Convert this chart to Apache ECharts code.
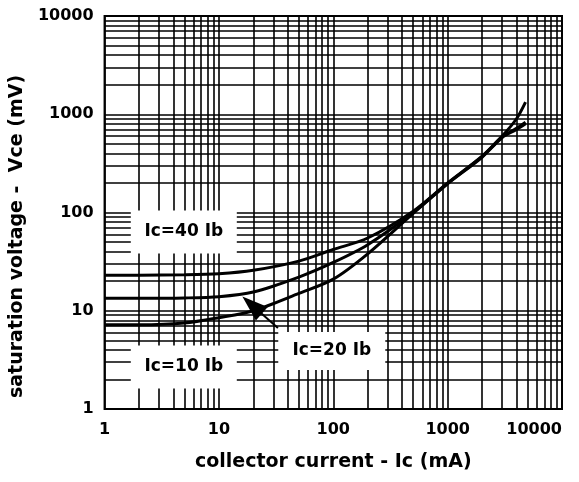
<!DOCTYPE html>
<html>
<head>
<meta charset="utf-8">
<script src="https://cdn.jsdelivr.net/npm/echarts@6/dist/echarts.min.js"></script>
<style>
  html, body { margin: 0; padding: 0; background: #fff; }
  #chart { width: 579px; height: 482px; }
</style>
</head>
<body>
<div id="chart"></div>
<script>
// collector current (mA) and Vce(sat) (mV)
const currentMA = [1, 2, 5, 10, 20, 50, 100, 200, 500, 1000, 2000, 3000, 4000, 4800]
const vce40 = [23, 23, 23.2, 23.8, 25.8, 32, 42, 55, 103, 200, 375, 600, 900, 1330]
const vce20 = [13.4, 13.4, 13.5, 13.9, 15.5, 22, 31, 47, 100, 198, 370, 590, 720, 830]
const vce10 = [7.2, 7.2, 7.5, 8.5, 10, 15, 21, 38, 98, 196, 365, 580, 700, 800]

const decades = [1, 10, 100, 1000]
const minorSteps = [2, 3, 4, 5, 6, 7, 8, 9]

const FONT = 'DejaVu Sans'

function pairs(ys) {
  return currentMA.map((x, i) => [x, ys[i]])
}

const minorGrid = []
decades.forEach(d => minorSteps.forEach(m => {
  minorGrid.push({ xAxis: d * m })
  minorGrid.push({ yAxis: d * m })
}))

function curve(name, ys) {
  return {
    name,
    type: 'line',
    z: 3,
    data: pairs(ys),
    smooth: 0.3,
    showSymbol: false,
    lineStyle: { color: '#000', width: 3 }
  }
}

function tag(text, coord, size) {
  return {
    coord,
    symbol: 'rect',
    symbolSize: size,
    itemStyle: { color: '#fff' },
    label: {
      show: true,
      position: 'inside',
      formatter: text,
      color: '#000',
      fontFamily: FONT,
      fontWeight: 'bold',
      fontSize: 17
    }
  }
}

const chart = echarts.init(document.getElementById('chart'))
chart.setOption({
  animation: false,
  backgroundColor: '#fff',
  grid: {
    left: 103, right: 17, top: 16, bottom: 73,
    show: true, borderColor: '#000', borderWidth: 2
  },
  xAxis: {
    type: 'log',
    logBase: 10,
    min: 1,
    max: 10000,
    name: 'collector current - Ic (mA)',
    nameLocation: 'middle',
    nameGap: 44,
    nameTextStyle: { fontFamily: FONT, fontWeight: 'bold', fontSize: 19, color: '#000' },
    axisLine: { show: false },
    axisTick: { show: false },
    axisLabel: {
      fontFamily: FONT, fontWeight: 'bold', fontSize: 16, color: '#000', margin: 13,
      alignMaxLabel: 'right',
      formatter: v => String(Math.round(v))
    },
    splitLine: { show: true, lineStyle: { color: '#000', width: 1.6 } }
  },
  yAxis: {
    type: 'log',
    logBase: 10,
    min: 1,
    max: 10000,
    name: 'saturation voltage -  Vce (mV)',
    nameLocation: 'middle',
    nameGap: 68,
    nameTextStyle: {
      fontFamily: FONT, fontWeight: 'bold', fontSize: 19, color: '#000',
      padding: [0, 48, 0, 0]
    },
    axisLine: { show: false },
    axisTick: { show: false },
    axisLabel: {
      fontFamily: FONT, fontWeight: 'bold', fontSize: 16, color: '#000', margin: 11,
      formatter: v => String(Math.round(v))
    },
    splitLine: { show: true, lineStyle: { color: '#000', width: 1.6 } }
  },
  series: [
    {
      name: 'grid',
      type: 'line',
      z: 1,
      data: [],
      silent: true,
      markLine: {
        silent: true,
        symbol: 'none',
        label: { show: false },
        lineStyle: { color: '#000', width: 1.6, type: 'solid' },
        data: minorGrid
      }
    },
    curve('Ic=40 Ib', vce40),
    curve('Ic=20 Ib', vce20),
    curve('Ic=10 Ib', vce10),
    {
      name: 'notes',
      type: 'line',
      z: 4,
      data: [],
      silent: true,
      markPoint: {
        silent: true,
        data: [
          tag('Ic=40 Ib', [4.93, 63.3], [106, 43]),
          tag('Ic=10 Ib', [4.93, 2.68], [106, 43]),
          tag('Ic=20 Ib', [97, 3.89], [107, 38])
        ]
      },
      markLine: {
        silent: true,
        label: { show: false },
        lineStyle: { color: '#000', width: 2, type: 'solid' },
        data: [[
          { coord: [32.8, 6.67], symbol: 'none' },
          { coord: [19.5, 11.4], symbol: 'triangle', symbolSize: [18, 26] }
        ]]
      }
    }
  ]
})
</script>
</body>
</html>
